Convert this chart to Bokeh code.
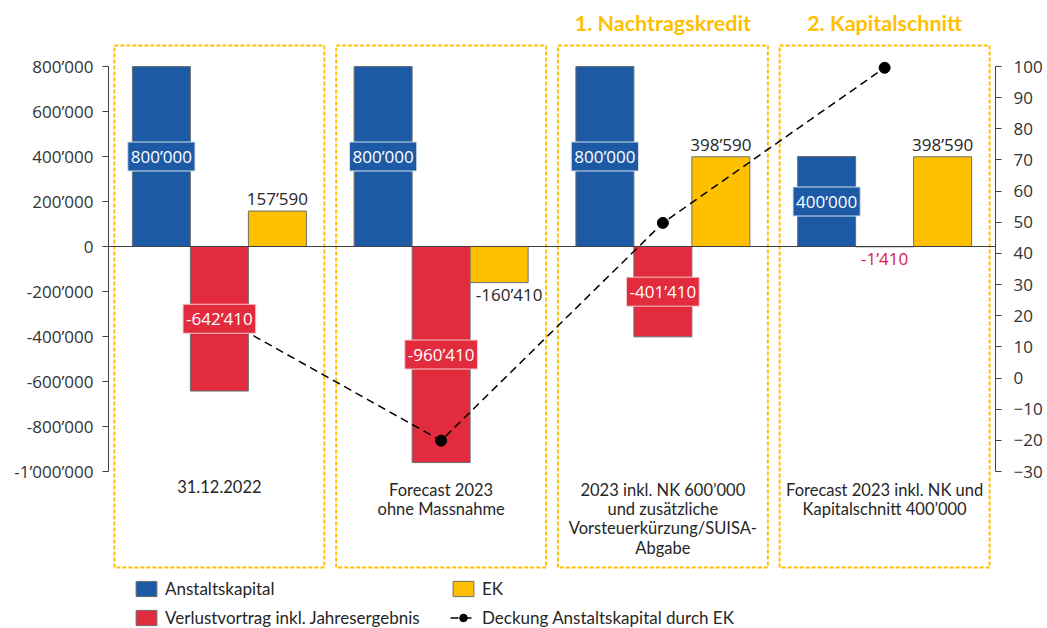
from bokeh.plotting import figure
from bokeh.models import Range1d, LinearAxis, FixedTicker, Span, Legend, LegendItem
from bokeh.core.properties import value
from bokeh.embed import file_html
from bokeh.resources import INLINE

# ---------------- data ----------------
categories = [
    "31.12.2022",
    "Forecast 2023\nohne Massnahme",
    "2023 inkl. NK 600\u2019000\nund zus\u00e4tzliche\nVorsteuerk\u00fcrzung/SUISA-\nAbgabe",
    "Forecast 2023 inkl. NK und\nKapitalschnitt 400\u2019000",
]
phase_titles = ["", "", "1. Nachtragskredit", "2. Kapitalschnitt"]
anstaltskapital = [800000, 800000, 800000, 400000]
verlustvortrag = [-642410, -960410, -401410, -1410]
ek = [157590, -160410, 398590, 398590]
deckung = [19.7, -20.1, 49.8, 99.6]
left_ticks = [-1000000, -800000, -600000, -400000, -200000, 0, 200000, 400000, 600000, 800000]
right_ticks = [-30, -20, -10, 0, 10, 20, 30, 40, 50, 60, 70, 80, 90, 100]
series_names = ["Anstaltskapital", "Verlustvortrag inkl. Jahresergebnis", "EK",
                "Deckung Anstaltskapital durch EK"]

# ---------------- styling / layout ----------------
BLUE = "#1C5AA6"
RED = "#E32B3E"
YELLOW = "#FFC000"
LABEL_RED = "#D81B4A"
TXT = "#333333"
AX = "#404040"
W, H = 1047, 628
LEFT_MIN, LEFT_MAX = -1000000, 800000
R_MIN, R_MAX = -30, 100
PY_TOP_TICK, PY_BOT_TICK = 66, 471        # pixel rows of 800000 / -1000000
UNITS_PER_PX = (LEFT_MAX - LEFT_MIN) / (PY_BOT_TICK - PY_TOP_TICK)
FRAME_L, FRAME_R = 108, 995
PX_PER_X = (FRAME_R - FRAME_L) / 4.0


def ydata(py):
    return LEFT_MAX - (py - PY_TOP_TICK) * UNITS_PER_PX


def to_pct(v):
    return R_MIN + (v - LEFT_MIN) / (LEFT_MAX - LEFT_MIN) * (R_MAX - R_MIN)


def fmt(v):
    return f"{v:,}".replace(",", "\u2019")


BAR_W = 58 / PX_PER_X
xs = list(range(len(categories)))
x_blue = [x - BAR_W for x in xs]
x_red = xs
x_yel = [x + BAR_W for x in xs]

y0, y1 = ydata(H), ydata(0)
p = figure(width=W, height=H, x_range=Range1d(-0.5, 3.5), y_range=Range1d(y0, y1),
           x_axis_location=None, y_axis_location=None, toolbar_location=None,
           output_backend="svg", min_border_left=FRAME_L, min_border_right=W - FRAME_R,
           min_border_top=0, min_border_bottom=0, outline_line_color=None)
p.extra_y_ranges = {"pct": Range1d(to_pct(y0), to_pct(y1))}
p.grid.visible = False
p.background_fill_color = "white"

# dashed group boxes
half = 105 / PX_PER_X
p.quad(left=[x - half for x in xs], right=[x + half for x in xs],
       top=[ydata(45)] * 4, bottom=[ydata(567)] * 4,
       fill_color=None, line_color=YELLOW, line_width=2, line_dash="4 2")

# phase titles
p.text(x=xs, y=[ydata(22)] * 4, text=phase_titles, text_font=value("Lato"),
       text_font_size="21.5px", text_font_style="bold", text_color=YELLOW,
       text_align="center", text_baseline="middle")

# category labels
p.text(x=xs, y=[ydata(479)] * 4, text=categories, text_font=value("Lato"),
       text_font_size="16.5px", text_color="#262626", text_align="center",
       text_baseline="top", text_line_height=0.97)

# bars
r_blue = p.vbar(x=x_blue, top=anstaltskapital, bottom=0, width=BAR_W,
                fill_color=BLUE, line_color="#6E6E6E", line_width=1)
r_red = p.vbar(x=x_red, top=verlustvortrag, bottom=0, width=BAR_W,
               fill_color=RED, line_color="#6E6E6E", line_width=1)
r_yel = p.vbar(x=x_yel, top=ek, bottom=0, width=BAR_W,
               fill_color=YELLOW, line_color="#6E6E6E", line_width=1)

p.add_layout(Span(location=0, dimension="width", line_color=AX, line_width=1))

# coverage line
r_line = p.line(x=xs, y=deckung, y_range_name="pct", line_color="black",
                line_width=1.5, line_dash="8 5")
r_dot = p.scatter(x=xs, y=deckung, y_range_name="pct", size=11,
                  fill_color="black", line_color="black")

# data labels
lab_font = value("Open Sans")
LFS = "17px"
p.text(x=x_blue, y=[v / 2 for v in anstaltskapital], text=[fmt(v) for v in anstaltskapital],
       text_font=lab_font, text_font_size=LFS, text_color="white",
       text_align="center", text_baseline="middle",
       background_fill_color=BLUE, border_line_color="#D5DFEB", padding=3)

big = [i for i, v in enumerate(verlustvortrag) if abs(v) > 100000]
small = [i for i, v in enumerate(verlustvortrag) if abs(v) <= 100000]
p.text(x=[x_red[i] for i in big], y=[verlustvortrag[i] / 2 for i in big],
       text=[fmt(verlustvortrag[i]) for i in big],
       text_font=lab_font, text_font_size=LFS, text_color="white",
       text_align="center", text_baseline="middle",
       background_fill_color=RED, border_line_color="#F2C9CE", padding=3)
p.text(x=[x_red[i] for i in small], y=[verlustvortrag[i] for i in small],
       text=[fmt(verlustvortrag[i]) for i in small],
       text_font=lab_font, text_font_size=LFS, text_color=LABEL_RED,
       text_align="center", text_baseline="top", y_offset=0)

pos = [i for i, v in enumerate(ek) if v >= 0]
neg = [i for i, v in enumerate(ek) if v < 0]
p.text(x=[x_yel[i] for i in pos], y=[ek[i] for i in pos], text=[fmt(ek[i]) for i in pos],
       text_font=lab_font, text_font_size=LFS, text_color="#262626",
       text_align="center", text_baseline="bottom", y_offset=-1)
p.text(x=[x_yel[i] + 10 / PX_PER_X for i in neg], y=[ek[i] for i in neg],
       text=[fmt(ek[i]) for i in neg],
       text_font=lab_font, text_font_size=LFS, text_color="#262626",
       text_align="center", text_baseline="top", y_offset=0)

# axes
la = LinearAxis(ticker=FixedTicker(ticks=left_ticks), bounds=(LEFT_MIN, LEFT_MAX),
                major_label_overrides={t: fmt(t) for t in left_ticks})
ra = LinearAxis(y_range_name="pct", ticker=FixedTicker(ticks=right_ticks), bounds=(R_MIN, R_MAX))
for ax, st in ((la, 9), (ra, 12)):
    ax.axis_line_color = AX
    ax.major_tick_line_color = AX
    ax.major_tick_out = 6
    ax.major_tick_in = 0
    ax.minor_tick_out = 0
    ax.minor_tick_in = 0
    ax.major_label_text_font = "Open Sans"
    ax.major_label_text_font_size = "17px"
    ax.major_label_text_color = TXT
    ax.major_label_standoff = st
p.add_layout(la, "left")
p.add_layout(ra, "right")

# legend
legend = Legend(items=[
    LegendItem(label=series_names[0], renderers=[r_blue]),
    LegendItem(label=series_names[2], renderers=[r_yel]),
    LegendItem(label=series_names[1], renderers=[r_red]),
    LegendItem(label=series_names[3], renderers=[r_line, r_dot]),
], location=(25, 0), orientation="horizontal", nrows=2,
    glyph_width=26, glyph_height=19, label_height=19, label_width=277,
    label_standoff=6, spacing=8,
    padding=0, margin=0, border_line_color=None, background_fill_alpha=0,
    label_text_font="Lato", label_text_font_size="17px", label_text_color="#262626")
p.add_layout(legend)

open("out.html", "w").write(file_html(p, INLINE))
